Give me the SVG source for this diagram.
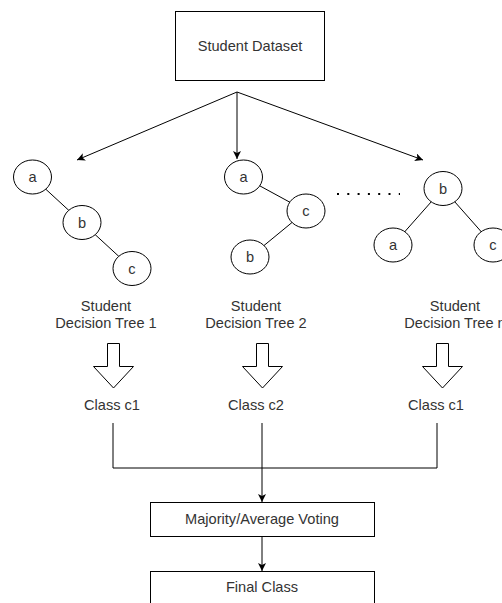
<svg xmlns="http://www.w3.org/2000/svg" width="502" height="603" viewBox="0 0 502 603">
  <style>
    .box { fill: #ffffff; stroke: #000000; stroke-width: 1; }
    .node { fill: #ffffff; stroke: #000000; stroke-width: 1; }
    .edge { fill: none; stroke: #000000; stroke-width: 1; }
    .txt { font-family: "Liberation Sans", Arial, sans-serif; font-size: 14.6px; fill: #333333; text-anchor: middle; }
    .blk { fill: #ffffff; stroke: #000000; stroke-width: 1; stroke-linejoin: miter; }
  </style>
  <defs>
    <marker id="arrow" viewBox="0 0 10 10" refX="10" refY="5" markerWidth="8" markerHeight="8" markerUnits="userSpaceOnUse" orient="auto">
      <path d="M0,0 L10,5 L0,10 L2.5,5 Z" fill="#000000"/>
    </marker>
  </defs>
  <rect width="502" height="603" fill="#ffffff"/>

  <!-- connectors -->
  <g id="connectors">
    <line class="edge" x1="237" y1="92" x2="77" y2="160" marker-end="url(#arrow)"/>
    <line class="edge" x1="237" y1="92" x2="237" y2="159" marker-end="url(#arrow)"/>
    <line class="edge" x1="237" y1="92" x2="423" y2="160" marker-end="url(#arrow)"/>
    <!-- tree edges -->
    <line class="edge" x1="32.5" y1="177" x2="82" y2="222.5"/>
    <line class="edge" x1="82" y1="222.5" x2="132" y2="268.5"/>
    <line class="edge" x1="243.5" y1="177" x2="306" y2="211"/>
    <line class="edge" x1="306" y1="211" x2="250" y2="257"/>
    <line class="edge" x1="443" y1="188.5" x2="393" y2="245"/>
    <line class="edge" x1="443" y1="188.5" x2="493" y2="245"/>
    <!-- dotted ellipsis between trees -->
    <line x1="337" y1="194" x2="400" y2="194" stroke="#000000" stroke-width="2" stroke-dasharray="2 8.3"/>
    <!-- merge into voting -->
    <polyline class="edge" points="113,423 113,468 437,468 437,423"/>
    <line class="edge" x1="262" y1="423" x2="262" y2="502" marker-end="url(#arrow)"/>
    <line class="edge" x1="262" y1="537" x2="262" y2="571" marker-end="url(#arrow)"/>
  </g>

  <g id="dataset">
    <rect class="box" x="175.5" y="11.5" width="149" height="69"/>
    <text class="txt" x="250" y="50.5">Student Dataset</text>
  </g>

  <!-- tree 1 -->
  <g id="tree1-a"><ellipse class="node" cx="32.5" cy="177" rx="19" ry="17"/><text class="txt" x="32.5" y="182">a</text></g>
  <g id="tree1-b"><ellipse class="node" cx="82" cy="222.5" rx="19" ry="17"/><text class="txt" x="82" y="227.5">b</text></g>
  <g id="tree1-c"><ellipse class="node" cx="132" cy="268.5" rx="19" ry="17"/><text class="txt" x="132" y="273.5">c</text></g>

  <!-- tree 2 -->
  <g id="tree2-a"><ellipse class="node" cx="243.5" cy="177" rx="19" ry="17"/><text class="txt" x="243.5" y="182">a</text></g>
  <g id="tree2-c"><ellipse class="node" cx="306" cy="211" rx="19" ry="17"/><text class="txt" x="306" y="216">c</text></g>
  <g id="tree2-b"><ellipse class="node" cx="250" cy="257" rx="19" ry="17"/><text class="txt" x="250" y="262">b</text></g>

  <!-- tree n -->
  <g id="treen-b"><ellipse class="node" cx="443" cy="188.5" rx="19" ry="17"/><text class="txt" x="443" y="193.5">b</text></g>
  <g id="treen-a"><ellipse class="node" cx="393" cy="245" rx="19" ry="17"/><text class="txt" x="393" y="250">a</text></g>
  <g id="treen-c"><ellipse class="node" cx="493" cy="245" rx="19" ry="17"/><text class="txt" x="493" y="250">c</text></g>

  <!-- tree labels -->
  <g id="label1"><text class="txt" x="106" y="311">Student</text><text class="txt" x="106" y="328">Decision Tree 1</text></g>
  <g id="label2"><text class="txt" x="256" y="311">Student</text><text class="txt" x="256" y="328">Decision Tree 2</text></g>
  <g id="labeln"><text class="txt" x="455" y="311">Student</text><text class="txt" x="455" y="328">Decision Tree n</text></g>

  <!-- block arrows -->
  <g id="blockarrow1"><path class="blk" d="M107.5,343.5 H119.5 V366.5 H133.5 L113.5,388 L93.5,366.5 H107.5 Z"/></g>
  <g id="blockarrow2"><path class="blk" d="M256.5,343.5 H268.5 V366.5 H282.5 L262.5,388 L242.5,366.5 H256.5 Z"/></g>
  <g id="blockarrown"><path class="blk" d="M436.5,343.5 H448.5 V366.5 H462.5 L442.5,388 L422.5,366.5 H436.5 Z"/></g>

  <!-- class outputs -->
  <g id="class1"><text class="txt" x="112" y="410">Class c1</text></g>
  <g id="class2"><text class="txt" x="256" y="410">Class c2</text></g>
  <g id="classn"><text class="txt" x="436" y="410">Class c1</text></g>

  <g id="voting">
    <rect class="box" x="150.5" y="502.5" width="224" height="34"/>
    <text class="txt" x="262" y="524">Majority/Average Voting</text>
  </g>

  <g id="final">
    <rect class="box" x="150.5" y="571.5" width="224" height="40"/>
    <text class="txt" x="262" y="592">Final Class</text>
  </g>
</svg>
